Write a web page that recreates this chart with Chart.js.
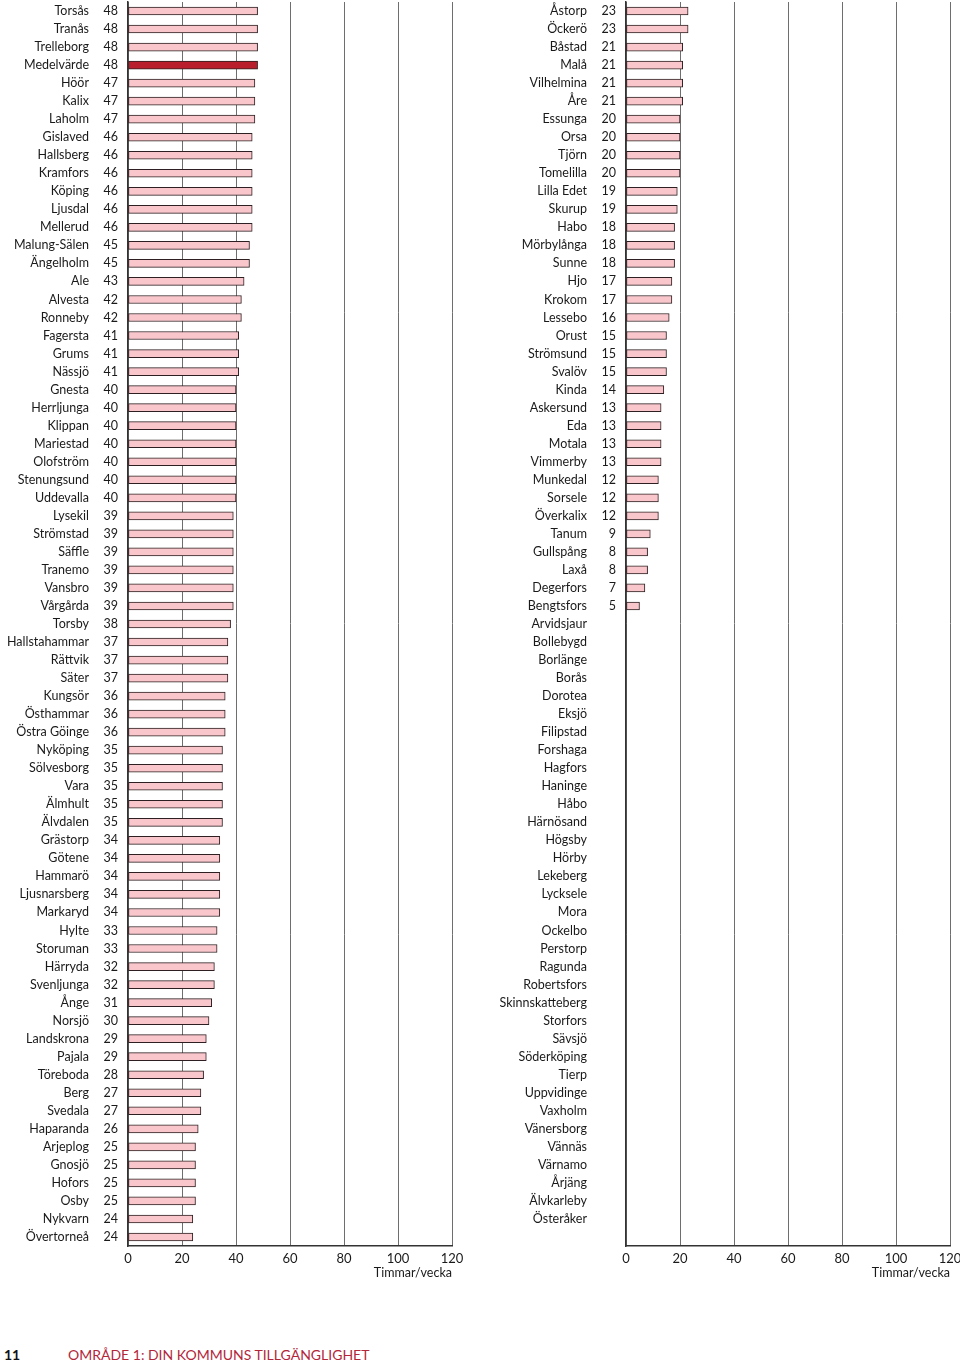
<!DOCTYPE html>
<html>
<head>
<meta charset="utf-8">
<script src="https://cdn.jsdelivr.net/npm/chart.js@4"></script>
<style>
  body { margin: 0; background: #fff; width: 960px; height: 1364px; position: relative; overflow: hidden; font-family: Lato, sans-serif; }
  .panel { position: absolute; top: 0; height: 1290px; width: 480px; }
  #left { left: 0; }
  #right { left: 498px; }
  .footer { position: absolute; top: 1346px; font-size: 14px; }
  .pagenum { left: 4px; font-weight: bold; color: #111; }
  .section { left: 68px; color: #b3263a; }
</style>
</head>
<body>
<div class="panel" id="left"><canvas id="leftChart"></canvas></div>
<div class="panel" id="right"><canvas id="rightChart"></canvas></div>
<div class="footer pagenum">11</div>
<div class="footer section">OMRÅDE 1: DIN KOMMUNS TILLGÄNGLIGHET</div>
<script>
const leftNames = ['Torsås', 'Tranås', 'Trelleborg', 'Medelvärde', 'Höör', 'Kalix', 'Laholm', 'Gislaved', 'Hallsberg', 'Kramfors',
  'Köping', 'Ljusdal', 'Mellerud', 'Malung-Sälen', 'Ängelholm', 'Ale', 'Alvesta', 'Ronneby', 'Fagersta', 'Grums',
  'Nässjö', 'Gnesta', 'Herrljunga', 'Klippan', 'Mariestad', 'Olofström', 'Stenungsund', 'Uddevalla', 'Lysekil', 'Strömstad',
  'Säffle', 'Tranemo', 'Vansbro', 'Vårgårda', 'Torsby', 'Hallstahammar', 'Rättvik', 'Säter', 'Kungsör', 'Östhammar',
  'Östra Göinge', 'Nyköping', 'Sölvesborg', 'Vara', 'Älmhult', 'Älvdalen', 'Grästorp', 'Götene', 'Hammarö', 'Ljusnarsberg',
  'Markaryd', 'Hylte', 'Storuman', 'Härryda', 'Svenljunga', 'Ånge', 'Norsjö', 'Landskrona', 'Pajala', 'Töreboda',
  'Berg', 'Svedala', 'Haparanda', 'Arjeplog', 'Gnosjö', 'Hofors', 'Osby', 'Nykvarn', 'Övertorneå'];
const leftValues = [48, 48, 48, 48, 47, 47, 47, 46, 46, 46,
  46, 46, 46, 45, 45, 43, 42, 42, 41, 41,
  41, 40, 40, 40, 40, 40, 40, 40, 39, 39,
  39, 39, 39, 39, 38, 37, 37, 37, 36, 36,
  36, 35, 35, 35, 35, 35, 34, 34, 34, 34,
  34, 33, 33, 32, 32, 31, 30, 29, 29, 28,
  27, 27, 26, 25, 25, 25, 25, 24, 24];

const rightNames = ['Åstorp', 'Öckerö', 'Båstad', 'Malå', 'Vilhelmina', 'Åre', 'Essunga', 'Orsa', 'Tjörn', 'Tomelilla',
  'Lilla Edet', 'Skurup', 'Habo', 'Mörbylånga', 'Sunne', 'Hjo', 'Krokom', 'Lessebo', 'Orust', 'Strömsund',
  'Svalöv', 'Kinda', 'Askersund', 'Eda', 'Motala', 'Vimmerby', 'Munkedal', 'Sorsele', 'Överkalix', 'Tanum',
  'Gullspång', 'Laxå', 'Degerfors', 'Bengtsfors', 'Arvidsjaur', 'Bollebygd', 'Borlänge', 'Borås', 'Dorotea', 'Eksjö',
  'Filipstad', 'Forshaga', 'Hagfors', 'Haninge', 'Håbo', 'Härnösand', 'Högsby', 'Hörby', 'Lekeberg', 'Lycksele',
  'Mora', 'Ockelbo', 'Perstorp', 'Ragunda', 'Robertsfors', 'Skinnskatteberg', 'Storfors', 'Sävsjö', 'Söderköping', 'Tierp',
  'Uppvidinge', 'Vaxholm', 'Vänersborg', 'Vännäs', 'Värnamo', 'Årjäng', 'Älvkarleby', 'Österåker', ''];
const rightValues = [23, 23, 21, 21, 21, 21, 20, 20, 20, 20,
  19, 19, 18, 18, 18, 17, 17, 16, 15, 15,
  15, 14, 13, 13, 13, 13, 12, 12, 12, 9,
  8, 8, 7, 5, null, null, null, null, null, null,
  null, null, null, null, null, null, null, null, null, null,
  null, null, null, null, null, null, null, null, null, null,
  null, null, null, null, null, null, null, null, null];

const xTicks = [0, 20, 40, 60, 80, 100, 120];
const axisTitle = 'Timmar/vecka';
const highlight = 'Medelvärde';

const FONT = 'Lato, sans-serif';
const LABEL_SIZE = 12.5;

// draws the value column between the names and the axis
const valueLabels = {
  id: 'valueLabels',
  afterDraw(chart) {
    const ctx = chart.ctx;
    const yScale = chart.scales.y;
    const values = chart.data.datasets[0].data;
    ctx.save();
    ctx.font = LABEL_SIZE + 'px ' + FONT;
    ctx.fillStyle = '#1a1a1a';
    ctx.textAlign = 'right';
    ctx.textBaseline = 'middle';
    values.forEach((v, i) => {
      if (v === null) return;
      ctx.fillText(String(v), chart.chartArea.left - 10, yScale.getPixelForValue(i));
    });
    ctx.restore();
  },
};

const drawPanel = (canvasId, names, values) => {
  const ctx = document.getElementById(canvasId).getContext('2d');
  new Chart(ctx, {
    type: 'bar',
    data: {
      labels: names,
      datasets: [{
        data: values,
        backgroundColor: names.map((n) => (n === highlight ? '#b81e2c' : '#f9c6cc')),
        borderColor: '#2e2022',
        borderWidth: 1,
        borderSkipped: false,
        barThickness: 8,
      }],
    },
    options: {
      indexAxis: 'y',
      responsive: true,
      maintainAspectRatio: false,
      animation: false,
      layout: { padding: { top: 2, right: 28, bottom: 10, left: 0 } },
      plugins: { legend: { display: false }, tooltip: { enabled: false } },
      scales: {
        x: {
          min: 0,
          max: 120,
          afterBuildTicks: (scale) => { scale.ticks = xTicks.map((v) => ({ value: v })); },
          afterFit: (scale) => {
            scale.height = 34;
            scale.paddingLeft = 0;
            scale.paddingRight = 0;
          },
          grid: { color: '#6e6e6e', lineWidth: 1, drawTicks: false },
          border: { color: '#333', width: 1.5 },
          ticks: { color: '#1a1a1a', font: { family: FONT, size: 13 }, padding: 5 },
          title: {
            display: true,
            text: axisTitle,
            align: 'end',
            color: '#1a1a1a',
            font: { family: FONT, size: 12.5 },
            padding: { top: 0, bottom: 0 },
          },
        },
        y: {
          afterFit: (scale) => {
            scale.width = 128;
            scale.paddingTop = 0;
            scale.paddingBottom = 0;
          },
          grid: { display: false, drawTicks: false },
          border: { color: '#333', width: 1.5 },
          ticks: { color: '#1a1a1a', font: { family: FONT, size: LABEL_SIZE }, padding: 39, autoSkip: false },
        },
      },
    },
    plugins: [valueLabels],
  });
};

drawPanel('leftChart', leftNames, leftValues);
drawPanel('rightChart', rightNames, rightValues);
</script>
</body>
</html>
